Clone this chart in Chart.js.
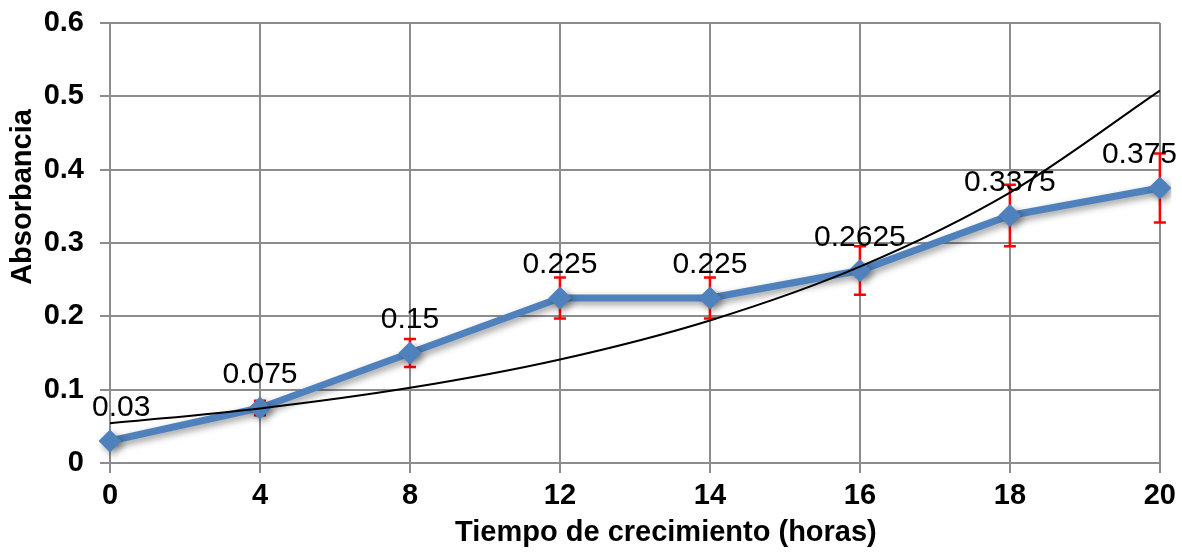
<!DOCTYPE html>
<html>
<head>
<meta charset="utf-8">
<script src="https://cdn.jsdelivr.net/npm/chart.js@4/dist/chart.umd.min.js"></script>
<style>
  html, body { margin: 0; padding: 0; background: #fff; }
  #wrap { width: 1182px; height: 552px; }
</style>
</head>
<body>
<div id="wrap"><canvas id="GrowthChart"></canvas></div>
<script>
// datos
var horas = ['0', '4', '8', '12', '14', '16', '18', '20'];
var absorbancia = [0.03, 0.075, 0.15, 0.225, 0.225, 0.2625, 0.3375, 0.375];
var error_abs = [0, 0.01, 0.019, 0.028, 0.028, 0.033, 0.042, 0.047];
var y_ticks = [0, 0.1, 0.2, 0.3, 0.4, 0.5, 0.6];
var x_title = 'Tiempo de crecimiento (horas)';
var y_title = 'Absorbancia';

// linea de tendencia exponencial (minimos cuadrados sobre ln y, x = 1..n como Excel)
function exp_fit(vals){
  var n = vals.length, sx = 0, sy = 0, sxx = 0, sxy = 0;
  vals.forEach((v, i) => {
    var x = i + 1, y = Math.log(v);
    sx += x; sy += y; sxx += x * x; sxy += x * y;
  });
  var b = (n * sxy - sx * sy) / (n * sxx - sx * sx);
  var a = Math.exp((sy - b * sx) / n);
  return vals.map((_, i) => a * Math.exp(b * (i + 1)));
}
var tendencia = exp_fit(absorbancia);

var FONT = "'Liberation Sans', Arial, sans-serif";

var errorBars = {
  id: 'errorBars',
  beforeDatasetsDraw(chart){
    var meta = chart.getDatasetMeta(1);
    var ys = chart.scales.y;
    var ctx = chart.ctx;
    ctx.save();
    ctx.strokeStyle = '#ff0000';
    ctx.lineWidth = 2.5;
    meta.data.forEach((pt, i) => {
      var e = error_abs[i];
      if(!e) return;
      var top = ys.getPixelForValue(absorbancia[i] + e);
      var bot = ys.getPixelForValue(absorbancia[i] - e);
      ctx.beginPath();
      ctx.moveTo(pt.x, top); ctx.lineTo(pt.x, bot);
      ctx.moveTo(pt.x - 6, top); ctx.lineTo(pt.x + 6, top);
      ctx.moveTo(pt.x - 6, bot); ctx.lineTo(pt.x + 6, bot);
      ctx.stroke();
    });
    ctx.restore();
  }
};

var lineShadow = {
  id: 'lineShadow',
  beforeDatasetDraw(chart, args){
    if(args.index != 1) return;
    var ctx = chart.ctx;
    ctx.save();
    ctx.shadowColor = 'rgba(0,0,0,0.4)';
    ctx.shadowBlur = 7;
    ctx.shadowOffsetX = 3;
    ctx.shadowOffsetY = 3;
  },
  afterDatasetDraw(chart, args){
    if(args.index != 1) return;
    chart.ctx.restore();
  }
};

var dataLabels = {
  id: 'dataLabels',
  afterDatasetsDraw(chart){
    var meta = chart.getDatasetMeta(1);
    var ctx = chart.ctx;
    ctx.save();
    ctx.font = '30px ' + FONT;
    ctx.fillStyle = '#000';
    ctx.textAlign = 'center';
    ctx.textBaseline = 'middle';
    meta.data.forEach((pt, i) => {
      var txt = String(absorbancia[i]);
      var w = ctx.measureText(txt).width;
      var x = pt.x;
      if(x + w / 2 > chart.width - 5) x = chart.width - 5 - w / 2;
      if(x - w / 2 < chart.chartArea.left - 18) x = chart.chartArea.left - 18 + w / 2;
      ctx.fillText(txt, x, pt.y - 33);
    });
    ctx.restore();
  }
};

// titulos de ejes, colocados como en el original (algo desplazados del centro)
var axisTitles = {
  id: 'axisTitles',
  afterDraw(chart){
    var ctx = chart.ctx;
    var area = chart.chartArea;
    ctx.save();
    ctx.font = 'bold 29px ' + FONT;
    ctx.fillStyle = '#000';
    ctx.textAlign = 'center';
    ctx.textBaseline = 'middle';
    ctx.fillText(x_title, (area.left + area.right) / 2 + 31, chart.height - 19);
    ctx.translate(23, (area.top + area.bottom) / 2 - 46);
    ctx.rotate(-Math.PI / 2);
    ctx.fillText(y_title, 0, 0);
    ctx.restore();
  }
};

var ctx = document.getElementById('GrowthChart');
var myLineChart = new Chart(ctx, {
  type: 'line',
  data: {
    labels: horas,
    datasets: [
      {
        label: 'Exponencial',
        data: tendencia,
        borderColor: '#000',
        borderWidth: 2,
        pointRadius: 0,
        cubicInterpolationMode: 'monotone',
        fill: false,
        order: 0
      },
      {
        label: 'Absorbancia',
        data: absorbancia,
        borderColor: '#4f81bd',
        backgroundColor: '#4f81bd',
        borderWidth: 7,
        pointStyle: 'rectRot',
        pointRadius: 11.5,
        pointBorderWidth: 0,
        pointBackgroundColor: '#4f81bd',
        tension: 0,
        fill: false,
        order: 1
      }
    ]
  },
  options: {
    responsive: true,
    maintainAspectRatio: false,
    animation: false,
    layout: { padding: { top: 23, right: 22, left: 0, bottom: 0 } },
    plugins: {
      legend: { display: false },
      tooltip: { enabled: false }
    },
    scales: {
      x: {
        offset: false,
        grid: { color: '#8c8c8c', lineWidth: 2, tickLength: 10, drawTicks: true },
        border: { color: '#8c8c8c', width: 2 },
        ticks: { color: '#000', font: { family: FONT, size: 29, weight: 'bold' }, padding: 6, maxRotation: 0 },
        afterFit(scale){ scale.height = 89; }
      },
      y: {
        min: 0, max: 0.6,
        afterBuildTicks(scale){ scale.ticks = y_ticks.map(v => ({ value: v })); },
        grid: { color: '#8c8c8c', lineWidth: 2, tickLength: 10 },
        border: { color: '#8c8c8c', width: 2 },
        ticks: { color: '#000', font: { family: FONT, size: 29, weight: 'bold', lineHeight: 0.4 }, padding: 16,
                 callback: v => String(Number(v.toFixed(1))) },
        afterFit(scale){ scale.width = 110; }
      }
    }
  },
  plugins: [errorBars, lineShadow, dataLabels, axisTitles]
});
</script>
</body>
</html>
